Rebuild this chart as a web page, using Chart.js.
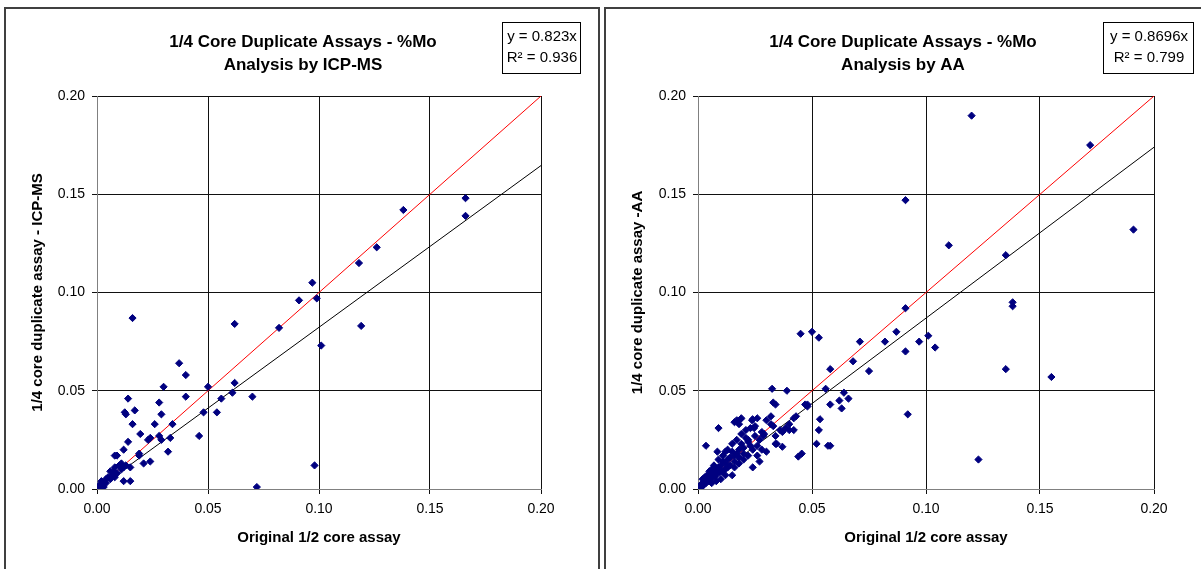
<!DOCTYPE html>
<html>
<head>
<meta charset="utf-8">
<title>1/4 Core Duplicate Assays - %Mo</title>
<script src="https://cdn.jsdelivr.net/npm/chart.js@4.4.1/dist/chart.umd.min.js"></script>
<style>
  body { margin: 0; background: #fff; width: 1201px; height: 569px; overflow: hidden; position: relative; }
  .panel { position: absolute; top: 7px; height: 620px; border: 2px solid #404040; box-sizing: border-box; }
  canvas { position: absolute; top: 0; }
</style>
</head>
<body>
<div class="panel" style="left:4px;width:596px"></div>
<div class="panel" style="left:604px;width:620px"></div>
<canvas id="icp" width="600" height="569" style="left:0"></canvas>
<canvas id="aa" width="601" height="569" style="left:600px"></canvas>
<script>
// shared axis ticks
const tickValues = [0, 0.05, 0.10, 0.15, 0.20];

// ICP-MS duplicates: original 1/2 core (x) vs 1/4 core (y)
const icpX = [0.166, 0.166, 0.138, 0.126, 0.118, 0.097, 0.091, 0.099, 0.082, 0.119,
  0.101, 0.070, 0.098, 0.072, 0.016, 0.062, 0.037, 0.040, 0.030, 0.050,
  0.062, 0.040, 0.014, 0.028, 0.017, 0.0125, 0.013, 0.029, 0.016, 0.026,
  0.034, 0.0195, 0.023, 0.024, 0.028, 0.029, 0.033, 0.014, 0.012, 0.008,
  0.009, 0.019, 0.019, 0.032, 0.024, 0.021, 0.046, 0.048, 0.054, 0.056,
  0.061, 0.015, 0.015, 0.012, 0.008, 0.010, 0.011, 0.008, 0.006, 0.007,
  0.005, 0.004, 0.003, 0.002, 0.001, 0.002, 0.004, 0.006, 0.009, 0.011,
  0.013, 0.0005, 0.001, 0.003, 0.012, 0.0075];
const icpY = [0.148, 0.139, 0.142, 0.123, 0.115, 0.105, 0.096, 0.097, 0.082, 0.083,
  0.073, 0.047, 0.012, 0.001, 0.087, 0.084, 0.064, 0.058, 0.052, 0.052,
  0.054, 0.047, 0.046, 0.044, 0.040, 0.039, 0.038, 0.038, 0.033, 0.033,
  0.033, 0.028, 0.025, 0.026, 0.027, 0.025, 0.026, 0.024, 0.020, 0.017,
  0.017, 0.018, 0.017, 0.019, 0.014, 0.013, 0.027, 0.039, 0.039, 0.046,
  0.049, 0.011, 0.004, 0.004, 0.006, 0.012, 0.010, 0.011, 0.009, 0.007,
  0.006, 0.005, 0.003, 0.002, 0.001, 0.004, 0.003, 0.005, 0.008, 0.013,
  0.012, 0.0005, 0.002, 0.001, 0.011, 0.009];

// AA duplicates
const aaX = [0.120, 0.172, 0.091, 0.191, 0.110, 0.135, 0.138, 0.138, 0.091, 0.087,
  0.071, 0.082, 0.097, 0.101, 0.104, 0.091, 0.068, 0.058, 0.075, 0.135,
  0.155, 0.064, 0.062, 0.066, 0.063, 0.058, 0.092, 0.123, 0.058, 0.045,
  0.050, 0.053, 0.0325, 0.039, 0.056, 0.047, 0.048, 0.033, 0.034, 0.0535,
  0.053, 0.052, 0.057, 0.042, 0.032, 0.026, 0.024, 0.0237, 0.025, 0.0246,
  0.019, 0.030, 0.032, 0.033, 0.0385, 0.040, 0.042, 0.037, 0.028, 0.0286,
  0.029, 0.034, 0.034, 0.037, 0.016, 0.018, 0.0187, 0.017, 0.0035, 0.009,
  0.012, 0.015, 0.024, 0.027, 0.030, 0.0345, 0.044, 0.0455, 0.0085, 0.021,
  0.022, 0.023, 0.020, 0.022, 0.019, 0.018, 0.017, 0.016, 0.015, 0.014,
  0.013, 0.012, 0.011, 0.010, 0.009, 0.008, 0.007, 0.006, 0.005, 0.004,
  0.003, 0.002, 0.001, 0.0015, 0.0025, 0.0035, 0.0045, 0.0055, 0.0065, 0.0075,
  0.0085, 0.0095, 0.0105, 0.012, 0.013, 0.014, 0.016, 0.018, 0.020, 0.024,
  0.026, 0.027, 0.025, 0.011, 0.009, 0.007, 0.006, 0.005, 0.004, 0.003,
  0.002, 0.013, 0.015, 0.017, 0.019, 0.021, 0.023, 0.010, 0.012, 0.008,
  0.006, 0.0005, 0.001, 0.0008, 0.016, 0.018, 0.020, 0.022, 0.026, 0.028,
  0.036, 0.040, 0.043, 0.048];
const aaY = [0.190, 0.175, 0.147, 0.132, 0.124, 0.119, 0.095, 0.093, 0.092, 0.080,
  0.075, 0.075, 0.075, 0.078, 0.072, 0.070, 0.065, 0.061, 0.060, 0.061,
  0.057, 0.049, 0.045, 0.046, 0.041, 0.043, 0.038, 0.015, 0.022, 0.079,
  0.080, 0.077, 0.051, 0.050, 0.051, 0.043, 0.043, 0.044, 0.043, 0.0355,
  0.030, 0.023, 0.022, 0.036, 0.037, 0.036, 0.0355, 0.035, 0.032, 0.031,
  0.036, 0.035, 0.033, 0.032, 0.031, 0.030, 0.030, 0.029, 0.029, 0.027,
  0.028, 0.027, 0.023, 0.0215, 0.034, 0.033, 0.0356, 0.035, 0.022, 0.031,
  0.019, 0.007, 0.011, 0.014, 0.019, 0.023, 0.0165, 0.018, 0.019, 0.026,
  0.024, 0.022, 0.021, 0.025, 0.023, 0.020, 0.018, 0.017, 0.019, 0.016,
  0.015, 0.013, 0.014, 0.012, 0.011, 0.010, 0.009, 0.008, 0.007, 0.005,
  0.004, 0.003, 0.002, 0.001, 0.002, 0.003, 0.004, 0.005, 0.006, 0.0065,
  0.008, 0.0085, 0.009, 0.010, 0.011, 0.012, 0.014, 0.016, 0.018, 0.020,
  0.022, 0.025, 0.027, 0.017, 0.015, 0.012, 0.010, 0.009, 0.007, 0.006,
  0.005, 0.020, 0.023, 0.025, 0.028, 0.030, 0.031, 0.005, 0.007, 0.004,
  0.003, 0.0005, 0.0005, 0.0015, 0.011, 0.013, 0.015, 0.017, 0.017, 0.020,
  0.030, 0.033, 0.037, 0.042];

// fitted slopes (through origin)
const icpSlope = 0.823;
const aaSlope = 0.8696;

const FONT = "'Liberation Sans', Arial, sans-serif";

function toPoints(xs, ys) {
  return xs.map((x, i) => ({ x: x, y: ys[i] }));
}

// draws the two-line chart title and the equation box
const headerPlugin = {
  id: 'header',
  afterDraw(chart, args, opts) {
    const ctx = chart.ctx;
    ctx.save();
    ctx.fillStyle = '#000';
    ctx.textAlign = 'center';
    ctx.textBaseline = 'middle';
    ctx.font = 'bold 17px ' + FONT;
    opts.title.forEach((t, i) => ctx.fillText(t, opts.titleX, 42 + i * 23));

    const b = opts.box;
    ctx.fillStyle = '#fff';
    ctx.fillRect(b.x, b.y, b.w, b.h);
    ctx.strokeStyle = '#000';
    ctx.lineWidth = 1;
    ctx.strokeRect(b.x + 0.5, b.y + 0.5, b.w, b.h);
    ctx.fillStyle = '#000';
    ctx.font = '15px ' + FONT;
    opts.eq.forEach((t, i) => ctx.fillText(t, b.x + b.w / 2 + 1, b.y + 15 + i * 21));
    ctx.restore();
  }
};

function makeChart(id, xs, ys, slope, yTitle, title, eq, box, yWidth, padRight) {
  const ctx = document.getElementById(id).getContext('2d');
  new Chart(ctx, {
    type: 'scatter',
    data: {
      datasets: [
        {
          label: 'data',
          data: toPoints(xs, ys),
          pointStyle: 'rectRot',
          radius: 3.6,
          backgroundColor: '#000080',
          borderColor: '#000080',
          borderWidth: 1
        },
        {
          label: '1:1',
          type: 'line',
          data: [{ x: 0, y: 0 }, { x: 0.2, y: 0.2 }],
          borderColor: '#ff0000',
          borderWidth: 1,
          pointRadius: 0
        },
        {
          label: 'fit',
          type: 'line',
          data: [{ x: 0, y: 0 }, { x: 0.2, y: 0.2 * slope }],
          borderColor: '#000',
          borderWidth: 1,
          pointRadius: 0
        }
      ]
    },
    options: {
      responsive: false,
      animation: { duration: 0 },
      events: [],
      layout: { padding: { left: 29, right: padRight, top: 96, bottom: 19 } },
      plugins: {
        legend: { display: false },
        tooltip: { enabled: false },
        header: { title: title, titleX: 303, eq: eq, box: box }
      },
      scales: {
        x: {
          type: 'linear',
          min: 0, max: 0.2,
          afterBuildTicks: s => { s.ticks = tickValues.map(v => ({ value: v })); },
          afterFit: s => { s.height = 61; },
          ticks: {
            color: '#000', padding: 7,
            font: { family: FONT, size: 14 },
            callback: v => v.toFixed(2)
          },
          grid: { color: '#111', lineWidth: 1, tickLength: 5 },
          border: { color: '#808080', width: 1 },
          title: {
            display: true, text: 'Original 1/2 core assay', color: '#000',
            font: { family: FONT, size: 15, weight: 'bold' },
            padding: { top: 0, bottom: 3 }
          }
        },
        y: {
          type: 'linear',
          min: 0, max: 0.2,
          afterBuildTicks: s => { s.ticks = tickValues.map(v => ({ value: v })); },
          afterFit: s => { s.width = yWidth; },
          ticks: {
            color: '#000', padding: 7,
            font: { family: FONT, size: 14 },
            callback: v => v.toFixed(2)
          },
          grid: { color: '#111', lineWidth: 1, tickLength: 5 },
          border: { color: '#808080', width: 1 },
          title: {
            display: true, text: yTitle, color: '#000',
            font: { family: FONT, size: 15, weight: 'bold' },
            padding: { top: 0, bottom: 0 }
          }
        }
      }
    },
    plugins: [headerPlugin]
  });
}

makeChart('icp', icpX, icpY, icpSlope, '1/4 core duplicate assay - ICP-MS',
  ['1/4 Core Duplicate Assays - %Mo', 'Analysis by ICP-MS'],
  ['y = 0.823x', 'R\u00b2 = 0.936'], { x: 502, y: 22, w: 78, h: 51 }, 68, 59);

makeChart('aa', aaX, aaY, aaSlope, '1/4 core duplicate assay -AA',
  ['1/4 Core Duplicate Assays - %Mo', 'Analysis by AA'],
  ['y = 0.8696x', 'R\u00b2 = 0.799'], { x: 503, y: 22, w: 90, h: 51 }, 69, 47);
</script>
</body>
</html>
